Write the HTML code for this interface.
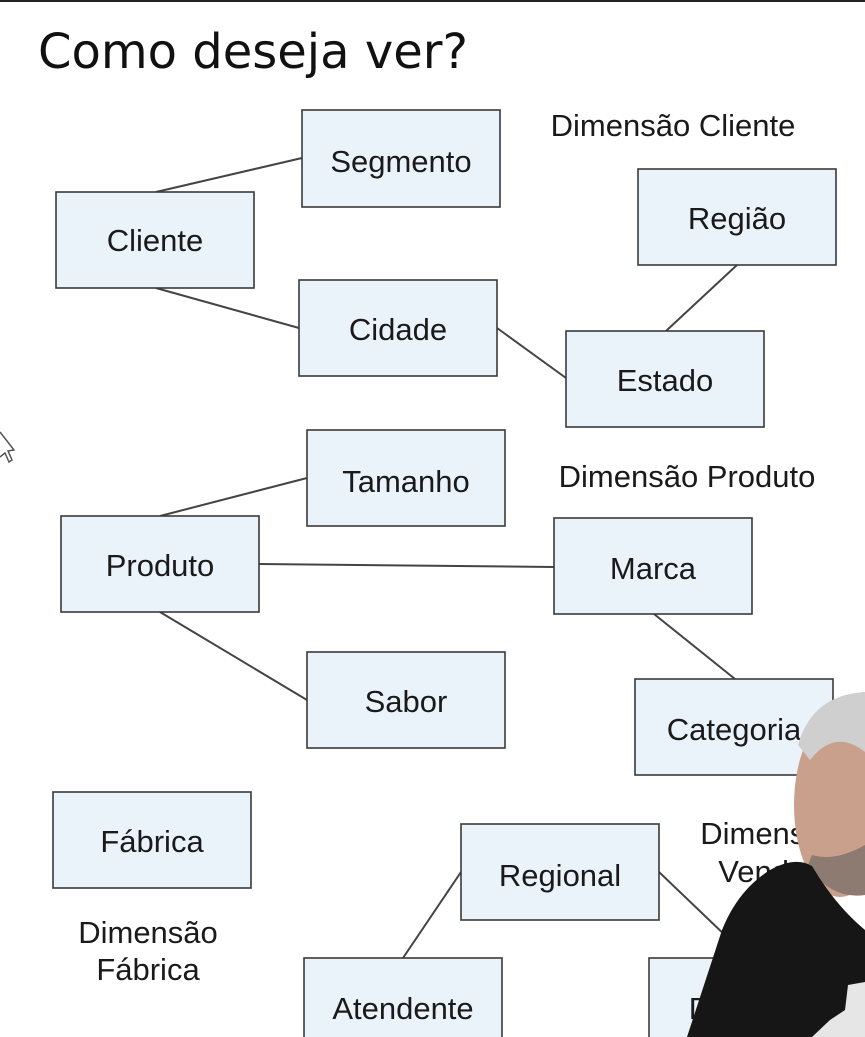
<!DOCTYPE html>
<html><head><meta charset="utf-8"><style>
html,body{margin:0;padding:0;background:#fff;width:865px;height:1037px;overflow:hidden}
svg{display:block}
.b{fill:#eaf2fa;stroke:#3a3a3a;stroke-width:1.6}
.t{font-family:"Liberation Sans",Arial,sans-serif;font-size:31px;fill:#1a1a1a;text-anchor:middle}
.l{stroke:#444;stroke-width:2;fill:none}
</style></head><body>
<svg width="865" height="1037" viewBox="0 0 865 1037" xmlns="http://www.w3.org/2000/svg">
<rect x="0" y="0" width="865" height="2" fill="#222"/>
<text x="38" y="68" font-family="'DejaVu Sans',sans-serif" font-size="48" fill="#111">Como deseja ver?</text>
<g class="l">
<line x1="156" y1="192" x2="302" y2="158"/>
<line x1="156" y1="288" x2="299" y2="328"/>
<line x1="497" y1="328" x2="566" y2="378"/>
<line x1="666" y1="331" x2="737" y2="265"/>
<line x1="160" y1="516" x2="307" y2="478"/>
<line x1="259" y1="564" x2="554" y2="567"/>
<line x1="160" y1="612" x2="307" y2="700"/>
<line x1="654" y1="614" x2="735" y2="679"/>
<line x1="461" y1="872" x2="403" y2="958"/>
<line x1="659" y1="872" x2="728" y2="938"/>
</g>
<rect class="b" x="302" y="110" width="198" height="97"/><text class="t" x="401" y="172">Segmento</text>
<rect class="b" x="56" y="192" width="198" height="96"/><text class="t" x="155" y="251">Cliente</text>
<rect class="b" x="638" y="169" width="198" height="96"/><text class="t" x="737" y="229">Região</text>
<rect class="b" x="299" y="280" width="198" height="96"/><text class="t" x="398" y="340">Cidade</text>
<rect class="b" x="566" y="331" width="198" height="96"/><text class="t" x="665" y="391">Estado</text>
<rect class="b" x="307" y="430" width="198" height="96"/><text class="t" x="406" y="492">Tamanho</text>
<rect class="b" x="61" y="516" width="198" height="96"/><text class="t" x="160" y="576">Produto</text>
<rect class="b" x="554" y="518" width="198" height="96"/><text class="t" x="653" y="579">Marca</text>
<rect class="b" x="307" y="652" width="198" height="96"/><text class="t" x="406" y="712">Sabor</text>
<rect class="b" x="635" y="679" width="198" height="96"/><text class="t" x="734" y="740">Categoria</text>
<rect class="b" x="53" y="792" width="198" height="96"/><text class="t" x="152" y="852">Fábrica</text>
<rect class="b" x="461" y="824" width="198" height="96"/><text class="t" x="560" y="886">Regional</text>
<rect class="b" x="304" y="958" width="198" height="100"/><text class="t" x="403" y="1019">Atendente</text>
<rect class="b" x="649" y="958" width="198" height="100"/><text class="t" x="700" y="1019">D</text>
<text class="t" x="673" y="136">Dimensão Cliente</text>
<text class="t" x="687" y="487">Dimensão Produto</text>
<text class="t" x="148" y="943">Dimensão</text>
<text class="t" x="148" y="980">Fábrica</text>
<text class="t" x="770" y="844">Dimensão</text>
<text class="t" x="770" y="882">Vendas</text>
<path d="M0,432 L14,450 L8,451 L12,460 L9,462 L5,453 L0,457" fill="#fff" stroke="#555" stroke-width="1.5"/>
<!-- person -->
<ellipse cx="840" cy="805" rx="46" ry="92" fill="#c9a08c"/>
<path d="M798,745 Q812,695 865,692 L865,752 Q835,728 810,760 Z" fill="#cfcfcf"/>
<path d="M808,865 Q830,900 865,895 L865,845 Q835,862 812,855 Z" fill="#8d7a70"/>
<path d="M687,1037 L722,930 Q738,890 770,870 Q795,856 812,866 Q835,905 865,930 L865,1037 Z" fill="#161616"/>
<path d="M848,985 L865,982 L865,1037 L812,1037 L830,1020 L845,1010 Z" fill="#e6e6e6"/>
</svg>
</body></html>
